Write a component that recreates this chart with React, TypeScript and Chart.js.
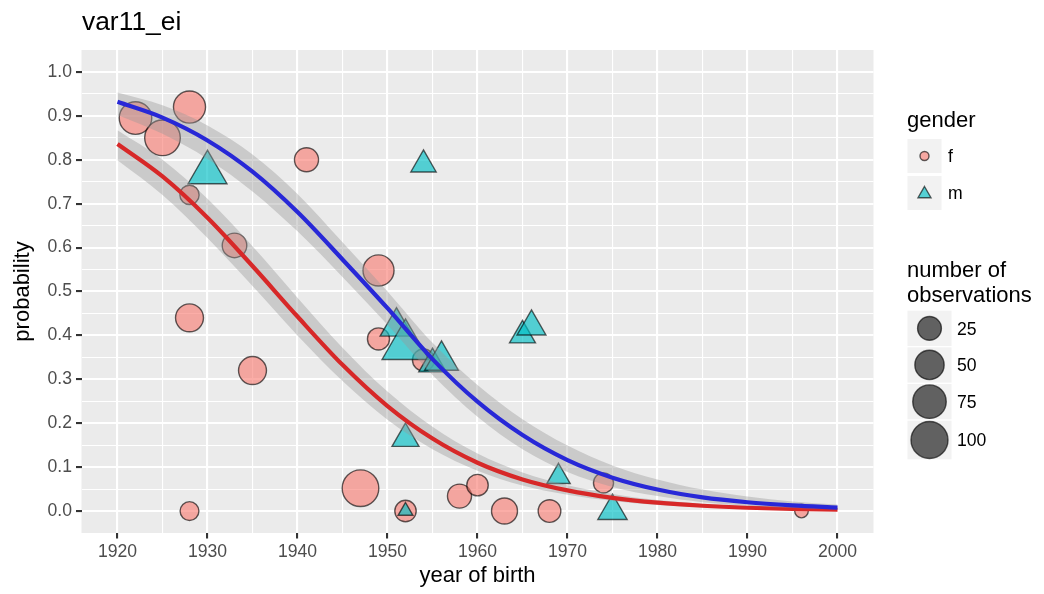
import React, { useEffect, useRef } from 'react';
import { Chart, registerables } from 'chart.js';

Chart.register(...registerables);

// ---------- data ----------
const chartTitle = 'var11_ei';
const xTitle = 'year of birth';
const yTitle = 'probability';

// fitted curves (every 5 years)
const curveYears = [1920, 1925, 1930, 1935, 1940, 1945, 1950, 1955, 1960, 1965, 1970, 1975, 1980, 1985, 1990, 1995, 2000];
const mFit = [0.932, 0.896, 0.844, 0.773, 0.681, 0.573, 0.462, 0.346, 0.249, 0.173, 0.116, 0.076, 0.049, 0.031, 0.02, 0.013, 0.008];
const mLow = [0.902, 0.859, 0.802, 0.728, 0.637, 0.533, 0.424, 0.31, 0.215, 0.141, 0.089, 0.055, 0.034, 0.02, 0.012, 0.0072, 0.0043];
const mHigh = [0.953, 0.924, 0.878, 0.812, 0.722, 0.612, 0.5, 0.383, 0.287, 0.209, 0.149, 0.104, 0.072, 0.049, 0.033, 0.022, 0.015];
const fFit = [0.836, 0.762, 0.668, 0.558, 0.443, 0.333, 0.239, 0.165, 0.11, 0.072, 0.047, 0.03, 0.019, 0.012, 0.0075, 0.0048, 0.003];
const fLow = [0.799, 0.72, 0.622, 0.5125, 0.4, 0.296, 0.208, 0.141, 0.092, 0.058, 0.037, 0.023, 0.014, 0.0086, 0.0052, 0.0033, 0.0019];
const fHigh = [0.867, 0.8, 0.711, 0.603, 0.486, 0.372, 0.272, 0.192, 0.131, 0.088, 0.059, 0.039, 0.025, 0.0166, 0.0108, 0.0071, 0.0046];

// observed points, gender f (circles)
const fYear = [1922, 1925, 1928, 1928, 1928, 1928, 1933, 1935, 1941, 1947, 1949, 1949, 1952, 1954, 1958, 1960, 1963, 1968, 1974, 1996];
const fProb = [0.895, 0.85, 0.92, 0.72, 0.44, 0.0, 0.605, 0.32, 0.8, 0.052, 0.548, 0.392, 0.0, 0.344, 0.034, 0.059, 0.0, 0.0, 0.064, 0.0];
const fObs = [69, 90, 66, 11, 43, 10, 28, 43, 26, 97, 60, 19, 17, 19, 26, 17, 34, 21, 13, 2];

// observed points, gender m (triangles)
const mYear = [1930, 1951, 1952, 1952, 1952, 1954, 1955, 1956, 1965, 1966, 1969, 1975];
const mProb = [0.771, 0.42, 0.376, 0.165, 0.0, 0.789, 0.335, 0.343, 0.4, 0.42, 0.078, 0.0];
const mObs = [48, 27, 84, 13, 1, 10, 14, 30, 11, 17, 7, 18];

// axes
const xTicks = [1920, 1930, 1940, 1950, 1960, 1970, 1980, 1990, 2000];
const xTickLabels = ['1920', '1930', '1940', '1950', '1960', '1970', '1980', '1990', '2000'];
const yTicks = [0, 0.1, 0.2, 0.3, 0.4, 0.5, 0.6, 0.7, 0.8, 0.9, 1.0];
const yTickLabels = ['0.0', '0.1', '0.2', '0.3', '0.4', '0.5', '0.6', '0.7', '0.8', '0.9', '1.0'];
const xRange = [1916, 2004];
const yRange = [-0.05, 1.05];

// legends
const genderLabels = ['f', 'm'];
const sizeTitle = ['number of', 'observations'];
const sizeBreaks = [25, 50, 75, 100];
const sizeBreakLabels = ['25', '50', '75', '100'];

// ---------- styling ----------
const FONT = "'Liberation Sans', Arial, Helvetica, sans-serif";
const F_FILL = 'rgba(248,118,109,0.6)';
const M_FILL = 'rgba(0,191,196,0.65)';
const PT_BORDER = 'rgba(0,0,0,0.62)';
const RIBBON = 'rgba(153,153,153,0.4)';
const BLUE = 'rgb(40,40,215)';
const RED = 'rgb(215,40,40)';
const TRI = 1.555;

function radiusFor(n: number) {
  return 5.5 + 13 * Math.sqrt(Math.max(0, n - 1) / 99);
}

function minorBetween(arr: number[]) {
  const out: number[] = [];
  for (let i = 0; i < arr.length - 1; i++) out.push((arr[i] + arr[i + 1]) / 2);
  return out;
}

function isIn(v: number, arr: number[]) {
  return arr.findIndex((a) => Math.abs(a - v) < 1e-6);
}

const panelBg = {
  id: 'panelBg',
  beforeDraw(chart: any) {
    const { ctx, chartArea: a } = chart;
    ctx.save();
    ctx.fillStyle = '#ebebeb';
    ctx.fillRect(a.left, a.top, a.right - a.left, a.bottom - a.top);
    ctx.restore();
  },
};

function pts(xs: number[], ys: number[]) {
  return xs.map((x, i) => ({ x, y: ys[i] }));
}

function gridOpts(majors: number[]) {
  return {
    color: '#ffffff',
    lineWidth: (c: any) => (c.tick && isIn(c.tick.value, majors) >= 0 ? 2.1 : 1.1),
    tickColor: (c: any) => (c.tick && isIn(c.tick.value, majors) >= 0 ? '#333333' : 'rgba(0,0,0,0)'),
    tickWidth: 2.1,
    tickLength: 5.5,
    drawTicks: true,
    drawOnChartArea: true,
  };
}

export default function App() {
  const canvasRef = useRef<HTMLCanvasElement | null>(null);

  useEffect(() => {
    document.body.style.margin = '0';
    const canvas = canvasRef.current;
    if (!canvas) return;

    const lineDs = (label: string, ys: number[], color: string) => ({
      type: 'line',
      label,
      data: pts(curveYears, ys),
      borderColor: color,
      borderWidth: 4.2,
      pointRadius: 0,
      fill: false,
      cubicInterpolationMode: 'monotone',
    });
    const bandDs = (label: string, ys: number[], fill: any) => ({
      type: 'line',
      label,
      data: pts(curveYears, ys),
      borderWidth: 0,
      borderColor: 'rgba(0,0,0,0)',
      backgroundColor: RIBBON,
      pointRadius: 0,
      fill,
      cubicInterpolationMode: 'monotone',
    });

    const xAll = [...xTicks, ...minorBetween(xTicks)].sort((a, b) => a - b);
    const yAll = [...yTicks, ...minorBetween(yTicks)].sort((a, b) => a - b);

    const chart = new Chart(canvas, {
      type: 'scatter',
      data: {
        datasets: [
          lineDs('m fit', mFit, BLUE),
          bandDs('m upper', mHigh, '+1'),
          bandDs('m lower', mLow, false),
          lineDs('f fit', fFit, RED),
          bandDs('f upper', fHigh, '+1'),
          bandDs('f lower', fLow, false),
          {
            type: 'scatter',
            label: 'm',
            data: pts(mYear, mProb),
            pointStyle: 'triangle',
            pointRadius: (c: any) => radiusFor(mObs[c.dataIndex]) * TRI,
            pointBackgroundColor: M_FILL,
            pointBorderColor: PT_BORDER,
            pointBorderWidth: 1.4,
          },
          {
            type: 'scatter',
            label: 'f',
            data: pts(fYear, fProb),
            pointStyle: 'circle',
            pointRadius: (c: any) => radiusFor(fObs[c.dataIndex]),
            pointBackgroundColor: F_FILL,
            pointBorderColor: PT_BORDER,
            pointBorderWidth: 1.4,
          },
        ] as any,
      },
      options: {
        responsive: false,
        animation: false,
        events: [],
        layout: { padding: { left: 0, top: 50, right: 170.5, bottom: 0 } },
        plugins: { legend: { display: false }, tooltip: { enabled: false }, title: { display: false } },
        scales: {
          x: {
            type: 'linear',
            min: xRange[0],
            max: xRange[1],
            border: { display: false },
            grid: gridOpts(xTicks) as any,
            afterBuildTicks: (s: any) => {
              s.ticks = xAll.map((v) => ({ value: v }));
            },
            afterFit: (s: any) => {
              s.height = 61;
            },
            ticks: {
              autoSkip: false,
              maxRotation: 0,
              padding: 3,
              color: '#4d4d4d',
              font: { family: FONT, size: 17.6 },
              callback: (v: any) => {
                const i = isIn(Number(v), xTicks);
                return i >= 0 ? xTickLabels[i] : '';
              },
            },
            title: {
              display: true,
              text: xTitle,
              color: '#000000',
              font: { family: FONT, size: 22 },
              padding: { top: 0, bottom: 5 },
            },
          },
          y: {
            type: 'linear',
            min: yRange[0],
            max: yRange[1],
            border: { display: false },
            grid: gridOpts(yTicks) as any,
            afterBuildTicks: (s: any) => {
              s.ticks = yAll.map((v) => ({ value: v }));
            },
            afterFit: (s: any) => {
              s.width = 81.5;
            },
            ticks: {
              autoSkip: false,
              padding: 4,
              color: '#4d4d4d',
              font: { family: FONT, size: 17.6 },
              callback: (v: any) => {
                const i = isIn(Number(v), yTicks);
                return i >= 0 ? yTickLabels[i] : '';
              },
            },
            title: {
              display: true,
              text: yTitle,
              color: '#000000',
              font: { family: FONT, size: 22 },
              padding: { top: 9.5, bottom: 0 },
            },
          },
        },
      } as any,
      plugins: [panelBg],
    });

    return () => chart.destroy();
  }, []);

  // legend geometry
  const gKeyX = 907.5;
  const gKeyTops = [139, 176];
  const gKeySize = 34;
  const sKeyX = 907.5;
  const sKeyW = 44;
  const sKeyTops = [310.7, 347.3, 384, 420.7];
  const sKeyHs = [35.3, 35.3, 35.3, 38.6];

  const triPoints = (cx: number, cy: number, R: number) => {
    const p = [0, 1, 2].map((k) => {
      const a = (k * 2 * Math.PI) / 3;
      return `${cx + Math.sin(a) * R},${cy - Math.cos(a) * R}`;
    });
    return p.join(' ');
  };

  return (
    <div style={{ position: 'relative', width: 1044, height: 594, background: '#ffffff', overflow: 'hidden' }}>
      <canvas ref={canvasRef} width={1044} height={594} style={{ position: 'absolute', left: 0, top: 0 }} />
      <svg width={1044} height={594} style={{ position: 'absolute', left: 0, top: 0, pointerEvents: 'none' }}>
        <text x={82} y={30} fontSize={26.4} fontFamily={FONT} fill="#000">{chartTitle}</text>

        <text x={907} y={127} fontSize={22} fontFamily={FONT} fill="#000">gender</text>
        {genderLabels.map((g, i) => {
          const cy = gKeyTops[i] + gKeySize / 2;
          const cx = gKeyX + gKeySize / 2;
          return (
            <g key={g}>
              <rect x={gKeyX} y={gKeyTops[i]} width={gKeySize} height={gKeySize} fill="#f2f2f2" />
              {i === 0 ? (
                <circle cx={cx} cy={cy} r={4.5} fill={F_FILL} stroke={PT_BORDER} strokeWidth={1.4} />
              ) : (
                <polygon points={triPoints(cx, cy + 1, 7.5)} fill={M_FILL} stroke={PT_BORDER} strokeWidth={1.4} />
              )}
              <text x={948} y={cy + 6.2} fontSize={17.6} fontFamily={FONT} fill="#000">{g}</text>
            </g>
          );
        })}

        {sizeTitle.map((t, i) => (
          <text key={t} x={907} y={277 + i * 25} fontSize={22} fontFamily={FONT} fill="#000">{t}</text>
        ))}
        {sizeBreaks.map((b, i) => {
          const cy = sKeyTops[i] + sKeyHs[i] / 2;
          const cx = sKeyX + sKeyW / 2;
          return (
            <g key={b}>
              <rect x={sKeyX} y={sKeyTops[i]} width={sKeyW} height={sKeyHs[i]} fill="#f2f2f2" />
              <circle cx={cx} cy={cy} r={radiusFor(b)} fill="rgba(0,0,0,0.6)" stroke={PT_BORDER} strokeWidth={1.4} />
              <text x={957} y={cy + 6.2} fontSize={17.6} fontFamily={FONT} fill="#000">{sizeBreakLabels[i]}</text>
            </g>
          );
        })}
      </svg>
    </div>
  );
}
